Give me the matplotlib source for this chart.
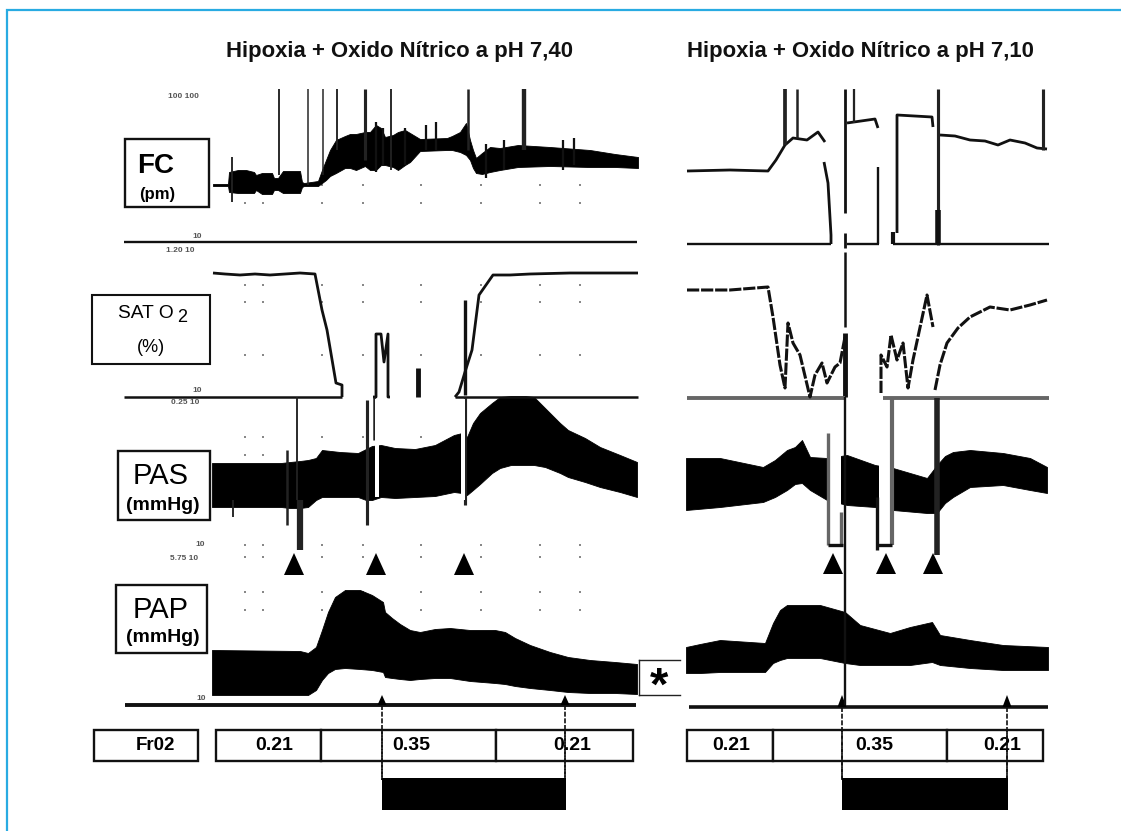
import matplotlib
matplotlib.use("Agg")
import matplotlib.pyplot as plt
from matplotlib.patches import Rectangle

plt.rcParams['font.family'] = ['Liberation Sans', 'DejaVu Sans']

# ---- data (page-pixel scale) ----
title_left = "Hipoxia + Oxido Nítrico a pH 7,40"
title_right = "Hipoxia + Oxido Nítrico a pH 7,10"

# left panel, FC band
fc_l_x =   [213, 228, 229, 238, 246, 254, 256, 262, 272, 274, 278, 283, 300, 302, 304, 318, 322, 326, 330, 336, 345, 350, 356, 365, 370, 376, 381, 385, 393, 398, 405, 410, 420, 447, 452, 460, 466, 470, 473, 476, 482, 490, 500, 518, 550, 590, 615, 638]
fc_l_top = [184, 184, 172, 170, 170, 172, 175, 173, 173, 178, 178, 171, 171, 182, 183, 181, 170, 160, 150, 140, 136, 134, 134, 132, 132, 125, 128, 137, 135, 132, 130, 133, 139, 138, 136, 132, 123, 140, 150, 158, 153, 147, 148, 145, 147, 150, 154, 157]
fc_l_bot = [186, 186, 192, 193, 193, 193, 190, 194, 194, 190, 190, 193, 193, 187, 186, 186, 183, 180, 176, 173, 168, 168, 170, 166, 170, 170, 165, 165, 167, 170, 165, 162, 151, 150, 150, 152, 155, 160, 168, 173, 174, 172, 170, 167, 166, 167, 167, 168]
fc_l_spike_x = [232, 279, 308, 323, 337, 365, 391, 468, 524]
fc_l_spike_top = [157, 89, 89, 89, 89, 89, 89, 89, 89]
fc_l_spike_bot = [202, 175, 185, 175, 150, 160, 170, 150, 150]
fc_l_spike_w = [1.5, 1.5, 1.2, 1.2, 1.5, 2.5, 1.5, 2.0, 3.5]
fc_l_tick_x = [376, 383, 405, 426, 436, 486, 504, 563, 574]
fc_l_tick_top = [122, 128, 128, 125, 122, 144, 140, 140, 138]
fc_l_tick_bot = [172, 166, 165, 150, 150, 178, 170, 170, 165]

# left panel, SAT line
sat_l_x = [213, 225, 240, 255, 270, 285, 300, 315, 322, 327, 336, 342, 342]
sat_l_y = [273, 274, 275, 274, 275, 274, 273, 274, 310, 330, 383, 385, 397]
sat_l2_x = [455, 459, 465, 472, 479, 486, 493, 510, 530, 570, 638]
sat_l2_y = [397, 392, 372, 350, 295, 285, 275, 275, 274, 273, 273]
sat_m_x = [373, 376, 376, 381, 384, 388, 388, 390]
sat_m_y = [397, 397, 334, 334, 362, 334, 397, 397]

# left panel, PAS band
pas_l_x =   [212, 250, 281, 290, 300, 308, 316, 322, 340, 358, 366, 372, 381, 395, 415, 435, 454, 462, 467, 473, 480, 492, 500, 511, 525, 534, 545, 560, 568, 585, 600, 620, 637]
pas_l_top = [463, 463, 463, 462, 461, 460, 458, 450, 452, 453, 449, 446, 445, 448, 449, 445, 435, 433, 437, 423, 413, 403, 397, 396, 396, 397, 408, 423, 430, 438, 447, 455, 462]
pas_l_bot = [507, 507, 507, 508, 508, 507, 500, 497, 497, 497, 500, 500, 497, 498, 497, 496, 492, 493, 495, 490, 484, 473, 468, 465, 465, 465, 467, 473, 477, 482, 487, 492, 497]

# left panel, PAP band
pap_l_x =   [212, 300, 308, 316, 322, 328, 335, 345, 360, 372, 383, 385, 392, 400, 410, 420, 435, 450, 470, 495, 505, 515, 530, 550, 568, 590, 615, 637]
pap_l_top = [650, 651, 653, 647, 630, 612, 597, 590, 590, 595, 602, 612, 618, 624, 630, 632, 629, 628, 630, 630, 632, 638, 645, 652, 657, 660, 662, 664]
pap_l_bot = [695, 695, 695, 690, 680, 673, 669, 668, 669, 670, 672, 677, 678, 679, 680, 679, 678, 678, 681, 683, 684, 686, 688, 690, 692, 693, 693, 694]

# right panel, FC line segments
fc_r1_x = [687, 730, 768, 776, 785, 793, 807, 818, 825]
fc_r1_y = [171, 170, 171, 160, 145, 138, 140, 132, 142]
fc_r2_x = [824, 828, 831, 831]
fc_r2_y = [162, 183, 235, 244]
fc_r3_x = [847, 875, 878]
fc_r3_y = [123, 119, 128]
fc_r4_x = [897, 897, 932, 933]
fc_r4_y = [233, 115, 117, 127]
fc_r5_x = [940, 955, 970, 985, 998, 1010, 1025, 1037, 1047]
fc_r5_y = [135, 136, 140, 141, 145, 140, 143, 148, 149]
fc_r_spike_x = [785, 797, 854, 938, 1043]
fc_r_spike_top = [89, 89, 89, 89, 89]
fc_r_spike_bot = [145, 138, 123, 245, 150]
fc_r_spike_w = [3.0, 2.0, 1.8, 2.5, 2.5]

# right panel, SAT line segments
sat_r1_x = [687, 730, 768, 773, 780, 785, 788, 793, 800, 810, 815, 822, 827, 835, 840, 845]
sat_r1_y = [290, 290, 287, 317, 365, 388, 323, 343, 355, 397, 375, 363, 383, 367, 363, 337]
sat_r2_x = [881, 881, 887, 891, 897, 903, 908, 913, 927, 933]
sat_r2_y = [393, 355, 367, 335, 360, 343, 388, 360, 295, 327]
sat_r3_x = [935, 940, 947, 958, 970, 990, 1010, 1030, 1047]
sat_r3_y = [390, 365, 343, 328, 317, 307, 310, 305, 300]

# right panel, PAS band
pas_r_x =   [686, 720, 763, 775, 787, 795, 802, 810, 827, 847, 875, 893, 927, 937, 945, 953, 970, 1003, 1030, 1047]
pas_r_top = [458, 458, 467, 460, 450, 447, 440, 457, 458, 455, 465, 468, 478, 465, 456, 452, 450, 453, 458, 467]
pas_r_bot = [510, 507, 502, 497, 490, 484, 483, 490, 500, 505, 507, 510, 513, 513, 503, 497, 487, 485, 490, 493]

# right panel, PAP band
pap_r_x =   [686, 700, 720, 765, 773, 780, 787, 820, 845, 860, 890, 910, 932, 940, 970, 1003, 1048]
pap_r_top = [647, 644, 640, 643, 623, 610, 605, 605, 612, 625, 633, 627, 622, 635, 640, 645, 647]
pap_r_bot = [673, 673, 672, 672, 663, 660, 658, 658, 663, 665, 665, 665, 662, 665, 668, 670, 670]

# FiO2 boxes
fio2_l_edges = [216, 321, 496, 633]
fio2_r_edges = [687, 773, 947, 1043]
fio2_values = ["0.21", "0.35", "0.21"]
fio2_l_text_x = [274, 411, 572]
fio2_r_text_x = [731, 874, 1002]

# grid dots on the chart paper
dot_l_x = [245, 263, 322, 363, 421, 481, 540, 580]
dot_rows_y = [185, 203, 285, 302, 355, 437, 455, 545, 557, 592, 610]
arrow_l_x = [294, 376, 464]
arrow_r_x = [833, 886, 933]
mini_l_x = [382, 565]
mini_r_x = [842, 1007]

# ---- drawing ----
fig = plt.figure(figsize=(11.21, 8.31), dpi=100, facecolor='white')
ax = fig.add_axes([0, 0, 1, 1])
ax.set_xlim(0, 1121)
ax.set_ylim(831, 0)
ax.axis('off')

ax.plot([1121, 6.5, 6.5], [9.5, 9.5, 831], color='#29abe2', lw=1.6, zorder=0, solid_joinstyle='miter')


def band(x, top, bot):
    ax.fill_between(x, top, bot, color='black', lw=0.6, zorder=3)


def line(x, y, lw=1.6, color='#111111', z=4, **kw):
    ax.plot(x, y, color=color, lw=lw, solid_capstyle='butt', zorder=z, **kw)


def spikes(xs, tops, bots, widths, color='#222222'):
    for x, t, b, w in zip(xs, tops, bots, widths):
        line([x, x], [t, b], lw=w * 0.9, color=color)


def tri(x, apex, base, half):
    ax.fill([x - half, x, x + half], [base, apex, base], color='black', lw=0, zorder=6)


def box(x0, y0, x1, y1, lw=1.7):
    ax.add_patch(Rectangle((x0, y0), x1 - x0, y1 - y0, fc='white', ec='#111111', lw=lw, zorder=7))


# dots
for dy in dot_rows_y:
    ax.scatter(dot_l_x, [dy] * len(dot_l_x), s=3.5, c='#888888', marker='s', lw=0, zorder=1)

# titles
ax.text(400, 52, title_left, ha='center', va='center', fontsize=15.9, fontweight='bold', color='#111111')
ax.text(860, 52, title_right, ha='center', va='center', fontsize=15.9, fontweight='bold', color='#111111')

# left FC
band(fc_l_x, fc_l_top, fc_l_bot)
spikes(fc_l_spike_x, fc_l_spike_top, fc_l_spike_bot, fc_l_spike_w)
spikes(fc_l_tick_x, fc_l_tick_top, fc_l_tick_bot, [1.8] * len(fc_l_tick_x), color='#111111')
line([124, 637], [242, 242], lw=1.7)

# left SAT
line(sat_l_x, sat_l_y, lw=2.0)
line(sat_l2_x, sat_l2_y, lw=2.0)
line(sat_m_x, sat_m_y, lw=2.0)
line([418, 418], [368, 397], lw=3.5)
line([465, 465], [300, 395], lw=2.4)
line([124, 342], [397, 397], lw=1.8)
line([455, 638], [397, 397], lw=1.8)

# left PAS
band(pas_l_x, pas_l_top, pas_l_bot)
spikes([297, 300, 287, 367, 465, 374, 233], [397, 500, 450, 400, 397, 397, 500],
       [500, 550, 525, 525, 505, 440, 517],
       [1.5, 5, 2, 2.5, 2.5, 2, 1.5])
for sx, sw, sb in [(377, 4.5, 497), (463, 3.5, 500)]:
    ax.add_patch(Rectangle((sx - sw / 2, 399), sw, sb - 399, fc='white', ec='none', zorder=5))

for a in arrow_l_x:
    tri(a, 553, 575, 10)

# left PAP
band(pap_l_x, pap_l_top, pap_l_bot)
line([125, 636], [705, 705], lw=2.8)
for a in mini_l_x:
    tri(a, 695, 705, 4.5)
    line([a, a], [705, 780], lw=1.2, ls=(0, (3, 1)), z=8)

# right FC
for xs, ys in [(fc_r1_x, fc_r1_y), (fc_r2_x, fc_r2_y), (fc_r3_x, fc_r3_y), (fc_r4_x, fc_r4_y), (fc_r5_x, fc_r5_y)]:
    line(xs, ys, lw=2.0)
spikes(fc_r_spike_x, fc_r_spike_top, fc_r_spike_bot, fc_r_spike_w)
line([878, 878], [167, 244], lw=1.7)
line([893, 893], [232, 244], lw=3)
line([938, 938], [210, 244], lw=4)
line([687, 831], [244, 244], lw=1.7)
line([847, 879], [244, 244], lw=1.7)
line([893, 1049], [244, 244], lw=1.7)

# long vertical on the right
line([845, 845], [89, 213], lw=2.0)
line([845, 845], [233, 248], lw=2.0)
line([845, 845], [252, 327], lw=1.8)
line([845, 845], [333, 397], lw=3.5)
line([845, 845], [397, 705], lw=1.7, z=8)

# right SAT
line([687, 845], [398, 398], lw=2.8, color='#666666')
line([883, 1049], [398, 398], lw=2.8, color='#666666')
for xs, ys in [(sat_r1_x, sat_r1_y), (sat_r2_x, sat_r2_y), (sat_r3_x, sat_r3_y)]:
    line(xs, ys, lw=2.2, ls=(0, (4, 0.6)))

# right PAS
band(pas_r_x, pas_r_top, pas_r_bot)
for sx0, sx1, st, sb in [(830, 841, 430, 512), (879, 890, 440, 545)]:
    ax.add_patch(Rectangle((sx0, st), sx1 - sx0, sb - st, fc='white', ec='none', zorder=4))
line([828, 828], [433, 545], lw=2.4, color='#666666', z=5)
line([841, 841], [512, 545], lw=2.4, color='#666666', z=5)
line([892, 892], [398, 545], lw=3.0, color='#666666', z=5)
line([877, 877], [497, 550], lw=2.4, z=5)
line([937, 937], [398, 555], lw=4.0, color='#222222', z=5)
line([828, 843], [545, 545], lw=2.4, z=5)
line([877, 892], [545, 545], lw=2.4, z=5)
for a in arrow_r_x:
    tri(a, 553, 574, 10)

# right PAP
band(pap_r_x, pap_r_top, pap_r_bot)
line([689, 1048], [707, 707], lw=2.6)
for a in mini_r_x:
    tri(a, 695, 707, 4.5)
    line([a, a], [707, 780], lw=1.2, ls=(0, (3, 1)), z=8)

# label boxes
box(125, 139, 209, 207)
ax.text(156, 166, "FC", ha='center', va='center', fontsize=20, fontweight='bold', zorder=8)
ax.text(157, 194, "(pm)", ha='center', va='center', fontsize=12, fontweight='bold', zorder=8)
box(92, 295, 210, 364, lw=1.5)
ax.text(146, 313, "SAT O", ha='center', va='center', fontsize=13.8, zorder=8)
ax.text(182, 317, "2", ha='center', va='center', fontsize=13, zorder=8)
ax.text(151, 348, "(%)", ha='center', va='center', fontsize=13, zorder=8)
box(118, 451, 210, 520)
ax.text(161, 476, "PAS", ha='center', va='center', fontsize=21, zorder=8)
ax.text(163, 505, "(mmHg)", ha='center', va='center', fontsize=14, fontweight='bold', zorder=8)
box(116, 585, 207, 653)
ax.text(161, 610, "PAP", ha='center', va='center', fontsize=21, zorder=8)
ax.text(163, 637, "(mmHg)", ha='center', va='center', fontsize=14, fontweight='bold', zorder=8)

# star marker
ax.plot([639, 680], [660, 660], color='#222222', lw=1, zorder=2)
ax.plot([639, 680], [695, 695], color='#222222', lw=1, zorder=2)
ax.plot([639, 639], [660, 695], color='#222222', lw=1, zorder=2)
ax.text(659, 688, "*", ha='center', va='center', fontsize=34, fontweight='bold', zorder=8)

# FiO2 row
box(94, 730, 198, 761, lw=1.7)
ax.text(155, 746, "Fr02", ha='center', va='center', fontsize=13.5, fontweight='bold', zorder=8)
for edges, tx in [(fio2_l_edges, fio2_l_text_x), (fio2_r_edges, fio2_r_text_x)]:
    for i in range(3):
        box(edges[i], 730, edges[i + 1], 761)
        ax.text(tx[i], 746, fio2_values[i], ha='center', va='center', fontsize=14, fontweight='bold', zorder=8)
for xs in (mini_l_x, mini_r_x):
    for a in xs:
        line([a, a], [729, 780], lw=1.2, ls=(0, (3, 1)), z=8)
ax.add_patch(Rectangle((mini_l_x[0], 778), mini_l_x[1] - mini_l_x[0] + 1, 32, fc='black', ec='none', zorder=8))
ax.add_patch(Rectangle((mini_r_x[0], 778), mini_r_x[1] - mini_r_x[0] + 1, 32, fc='black', ec='none', zorder=8))

# faint scale captions printed on the chart paper
for tx, ty, s in [(183, 97, "100 100"), (180, 250, "1.20 10"), (197, 236, "10"),
                  (185, 403, "0.25 10"), (197, 390, "10"), (184, 558, "5.75 10"), (200, 545, "10"),
                  (201, 698, "10")]:
    ax.text(tx, ty, s, ha='center', va='center', fontsize=6, fontweight='bold', color='#555555', zorder=2)

fig.savefig("out.png", dpi=100)
